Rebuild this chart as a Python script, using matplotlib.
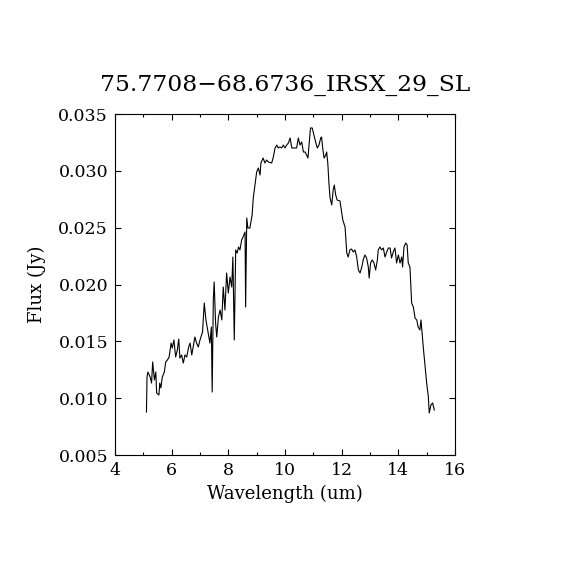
import matplotlib
matplotlib.use("Agg")
import matplotlib.pyplot as plt
from matplotlib.ticker import MultipleLocator

plt.rcParams['font.family'] = ['DejaVu Serif']

# spectrum
wavelength = [5.11, 5.12, 5.13, 5.16, 5.24, 5.29, 5.33, 5.39, 5.44, 5.47,
              5.55, 5.58, 5.62, 5.67, 5.74, 5.79, 5.85, 5.91, 5.98, 6.02,
              6.08, 6.14, 6.20, 6.25, 6.29, 6.35, 6.41, 6.47, 6.53, 6.60,
              6.65, 6.71, 6.76, 6.82, 6.88, 6.94, 7.00, 7.09, 7.15, 7.21,
              7.27, 7.31, 7.35, 7.40, 7.43, 7.47, 7.50, 7.55, 7.59, 7.65,
              7.71, 7.77, 7.82, 7.88, 7.94, 8.00, 8.06, 8.12, 8.16, 8.21,
              8.26, 8.31, 8.36, 8.41, 8.47, 8.52, 8.59, 8.61, 8.65, 8.69,
              8.76, 8.84, 8.88, 8.94, 9.00, 9.06, 9.12, 9.15, 9.23, 9.29,
              9.35, 9.41, 9.53, 9.58, 9.65, 9.71, 9.76, 9.82, 9.88, 9.94,
              10.00, 10.06, 10.12, 10.18, 10.24, 10.35, 10.41, 10.47, 10.53, 10.59,
              10.65, 10.71, 10.76, 10.81, 10.84, 10.90, 10.96, 11.02, 11.08, 11.14,
              11.20, 11.26, 11.29, 11.33, 11.38, 11.44, 11.47, 11.51, 11.55, 11.59,
              11.65, 11.70, 11.74, 11.79, 11.84, 11.94, 12.00, 12.04, 12.12, 12.15,
              12.18, 12.23, 12.29, 12.35, 12.41, 12.47, 12.53, 12.59, 12.65, 12.71,
              12.76, 12.82, 12.88, 12.94, 12.97, 13.02, 13.08, 13.14, 13.20, 13.26,
              13.29, 13.35, 13.41, 13.47, 13.53, 13.59, 13.65, 13.71, 13.76, 13.82,
              13.88, 13.94, 14.00, 14.06, 14.12, 14.15, 14.20, 14.26, 14.31, 14.35,
              14.41, 14.47, 14.53, 14.59, 14.65, 14.70, 14.76, 14.80, 14.83, 14.88,
              14.94, 15.00, 15.06, 15.09, 15.15, 15.21, 15.27]

flux = [0.00878, 0.01028, 0.01186, 0.01230, 0.01186, 0.01133, 0.01318, 0.01160, 0.01230, 0.01045,
        0.01028, 0.01133, 0.01090, 0.01186, 0.01230, 0.01318, 0.01336, 0.01362, 0.01485, 0.01441,
        0.01512, 0.01362, 0.01424, 0.01520, 0.01353, 0.01380, 0.01309, 0.01380, 0.01362, 0.01450,
        0.01485, 0.01380, 0.01450, 0.01538, 0.01485, 0.01450, 0.01512, 0.01582, 0.01837, 0.01688,
        0.01600, 0.01538, 0.01485, 0.01626, 0.01054, 0.01864, 0.02022, 0.01661, 0.01538, 0.01714,
        0.01776, 0.01688, 0.01978, 0.01776, 0.02101, 0.01925, 0.02066, 0.01978, 0.02242, 0.01512,
        0.02304, 0.02277, 0.02330, 0.02304, 0.02392, 0.02418, 0.02462, 0.01802, 0.02585, 0.02497,
        0.02497, 0.02611, 0.02761, 0.02875, 0.02990, 0.03025, 0.02963, 0.03069, 0.03113, 0.03069,
        0.03095, 0.03078, 0.03069, 0.03113, 0.03201, 0.03227, 0.03201, 0.03210, 0.03201, 0.03227,
        0.03201, 0.03227, 0.03245, 0.03289, 0.03201, 0.03201, 0.03201, 0.03289, 0.03227, 0.03254,
        0.03166, 0.03166, 0.03139, 0.03113, 0.03201, 0.03377, 0.03377, 0.03315, 0.03254, 0.03201,
        0.03227, 0.03289, 0.03298, 0.03201, 0.03113, 0.03139, 0.03166, 0.03069, 0.02893, 0.02761,
        0.02700, 0.02831, 0.02875, 0.02787, 0.02743, 0.02735, 0.02638, 0.02568, 0.02506, 0.02392,
        0.02277, 0.02242, 0.02304, 0.02312, 0.02286, 0.02304, 0.02242, 0.02128, 0.02101, 0.02154,
        0.02216, 0.02260, 0.02233, 0.02154, 0.02057, 0.02189, 0.02216, 0.02189, 0.02128, 0.02216,
        0.02304, 0.02330, 0.02304, 0.02321, 0.02242, 0.02286, 0.02321, 0.02321, 0.02233, 0.02286,
        0.02321, 0.02189, 0.02260, 0.02189, 0.02242, 0.02154, 0.02330, 0.02365, 0.02348, 0.02189,
        0.02154, 0.01837, 0.01802, 0.01705, 0.01688, 0.01626, 0.01600, 0.01688, 0.01600, 0.01450,
        0.01292, 0.01133, 0.01010, 0.00870, 0.00940, 0.00958, 0.00896]

title = "75.7708\u221268.6736_IRSX_29_SL"

fig = plt.figure(figsize=(5.7, 5.7), dpi=100)
ax = fig.add_axes([115 / 570, 115 / 570, 340 / 570, 341 / 570])

ax.plot(wavelength, flux, color='black', linewidth=0.8)

ax.set_xlim(4, 16)
ax.set_ylim(0.005, 0.035)
ax.xaxis.set_major_locator(MultipleLocator(2))
ax.xaxis.set_minor_locator(MultipleLocator(1))
ax.yaxis.set_major_locator(MultipleLocator(0.005))
ax.yaxis.set_major_formatter(plt.FormatStrFormatter('%.3f'))

ax.tick_params(which='both', direction='in', top=True, right=True, width=0.8, labelsize=12.5)
ax.tick_params(which='major', length=4.5, pad=5)
ax.tick_params(which='minor', length=2)
for s in ax.spines.values():
    s.set_linewidth(0.8)

ax.set_xlabel("Wavelength (um)", fontsize=13, labelpad=4)
ax.set_ylabel("Flux (Jy)", fontsize=13, labelpad=9)
ax.set_title(title, fontsize=16.8, pad=17)

fig.savefig("out.png", dpi=100)
